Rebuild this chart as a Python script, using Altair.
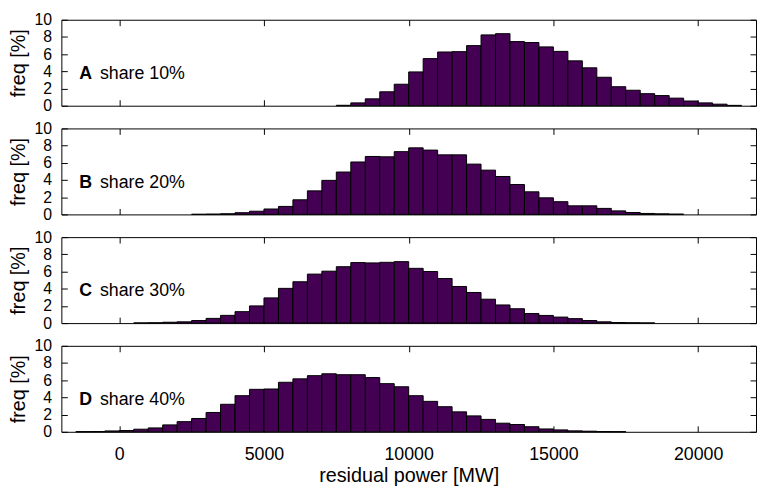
import altair as alt
import pandas as pd

FONT = "Liberation Sans"
PURPLE = "#440154"
BIN_WIDTH = 500

x_ticks = [0, 5000, 10000, 15000, 20000]
y_ticks = [0, 2, 4, 6, 8, 10]
panel_letters = ["A", "B", "C", "D"]
panel_labels = ["share 10%", "share 20%", "share 30%", "share 40%"]

# first bin start (MW) and bar heights (freq %) per panel, 500 MW bins
a_start = 7500
a_freq = [0.05, 0.33, 0.8, 1.62, 2.5, 3.93, 5.48, 6.25, 6.29, 6.99, 8.24, 8.38,
          7.46, 7.35, 6.84, 6.32, 5.22, 4.41, 3.31, 2.21, 1.80, 1.40, 1.18, 0.88,
          0.55, 0.33, 0.18, 0.04]

b_start = 2500
b_freq = [0.02, 0.04, 0.08, 0.2, 0.37, 0.63, 0.93, 1.7, 2.74, 3.96, 4.93, 6.1,
          6.74, 6.7, 7.3, 7.74, 7.48, 6.93, 6.93, 5.85, 5.15, 4.41, 3.48, 2.63,
          1.93, 1.48, 1.0, 1.0, 0.7, 0.41, 0.22, 0.11, 0.07, 0.04]

c_start = 500
c_freq = [0.02, 0.04, 0.1, 0.15, 0.3, 0.55, 0.9, 1.33, 2.0, 2.93, 4.04, 4.81,
          5.7, 6.04, 6.56, 7.04, 7.0, 7.07, 7.15, 6.37, 6.0, 5.19, 4.26, 3.56,
          2.78, 2.11, 1.67, 1.11, 0.89, 0.7, 0.52, 0.3, 0.15, 0.07, 0.04, 0.02]

d_start = -1500
d_freq = [0.02, 0.03, 0.1, 0.15, 0.3, 0.45, 0.8, 1.18, 1.55, 2.25, 3.2, 4.2,
          4.94, 4.98, 5.76, 6.16, 6.53, 6.75, 6.64, 6.64, 6.31, 5.6, 5.24, 4.2,
          3.54, 2.92, 2.32, 1.85, 1.44, 1.0, 0.85, 0.59, 0.33, 0.22, 0.11, 0.07,
          0.03, 0.02]


def make_df(start, freqs):
    x0 = [start + i * BIN_WIDTH for i in range(len(freqs))]
    return pd.DataFrame({"x0": x0, "x1": [v + BIN_WIDTH for v in x0], "freq": freqs})


xscale = alt.Scale(domain=[-2000, 22000], nice=False, zero=False)
yscale = alt.Scale(domain=[0, 10], nice=False)


def panel(df, letter, label, bottom):
    xb = dict(orient="bottom", values=x_ticks, tickSize=6, offset=-6, domain=False,
              grid=False, labels=bottom, labelPadding=14, titlePadding=2,
              format="d", labelOverlap=False,
              title=("residual power [MW]" if bottom else None))
    bars = alt.Chart(df).mark_rect(fill=PURPLE, stroke="black", strokeWidth=1).encode(
        x=alt.X("x0:Q", scale=xscale, axis=alt.Axis(**xb)),
        x2="x1:Q",
        y=alt.Y("freq:Q", scale=yscale,
                axis=alt.Axis(orient="left", values=y_ticks, tickSize=6, offset=-6,
                              domain=False, grid=False, labelPadding=10,
                              labelOverlap=False, format="d", labelFontSize=16,
                              title="freq [%]", titlePadding=5)),
        y2=alt.datum(0),
    )
    frame = alt.Chart(df).mark_point(opacity=0).encode(
        x=alt.X("x0:Q", scale=xscale,
                axis=alt.Axis(orient="top", values=x_ticks, tickSize=6, offset=-6,
                              domain=False, grid=False, labels=False, title=None)),
        y=alt.Y("freq:Q", scale=yscale,
                axis=alt.Axis(orient="right", values=y_ticks, tickSize=6, offset=-6,
                              domain=False, grid=False, labels=False, title=None)),
    )
    t_letter = alt.Chart(pd.DataFrame({"t": [letter]})).mark_text(
        font=FONT, fontSize=18, fontWeight="bold", align="left",
        baseline="alphabetic", color="black"
    ).encode(text="t:N", x=alt.value(18), y=alt.value(60))
    t_label = alt.Chart(pd.DataFrame({"t": [label]})).mark_text(
        font=FONT, fontSize=18, align="left", baseline="alphabetic", color="black"
    ).encode(text="t:N", x=alt.value(39), y=alt.value(60))
    return alt.layer(bars, frame, t_letter, t_label).properties(width=703, height=87)


dfs = [make_df(a_start, a_freq), make_df(b_start, b_freq),
       make_df(c_start, c_freq), make_df(d_start, d_freq)]

panels = [panel(dfs[i], panel_letters[i], panel_labels[i], i == 3) for i in range(4)]

chart = alt.vconcat(*panels, spacing=5).properties(padding=0).configure_view(
    stroke="black", strokeWidth=1
).configure_axis(
    labelFont=FONT, titleFont=FONT, labelFontSize=18, titleFontSize=20,
    labelColor="black", titleColor="black", tickColor="black",
    titleFontWeight="normal", tickWidth=1
)

chart.save("out.html", embed_options={"renderer": "svg", "actions": False})
